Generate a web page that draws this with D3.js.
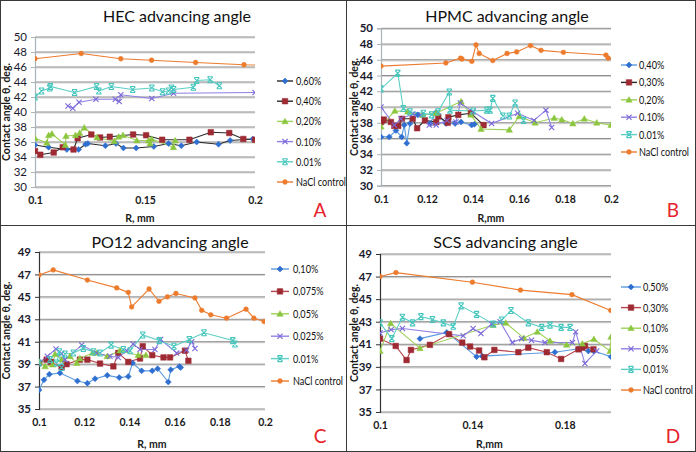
<!DOCTYPE html>
<html><head><meta charset="utf-8">
<script src="https://cdn.jsdelivr.net/npm/d3@7"></script>
<style>body{margin:0;background:#fff}svg{display:block}text{font-family:Lato,"Liberation Sans",sans-serif}</style>
</head><body><svg id="c" width="696" height="452"></svg>
<script>
// ---------- DATA ----------
// Panel A: HEC
const hec_060 = [[0.1,35.6],[0.1062,35.3],[0.1145,35.0],[0.1198,35.0],[0.123,35.7],[0.124,35.8],[0.132,35.5],[0.1368,35.8],[0.1402,35.2],[0.146,35.2],[0.154,35.4],[0.1607,35.8],[0.1665,35.5],[0.1735,36.0],[0.1834,35.7],[0.1887,36.2],[0.199,36.4]];
const hec_040 = [[0.1,34.8],[0.1024,34.3],[0.1085,34.6],[0.1126,35.3],[0.1175,35.0],[0.1194,36.5],[0.1256,37.0],[0.1296,36.6],[0.134,36.7],[0.1446,37.0],[0.1505,36.9],[0.1578,36.3],[0.1702,36.3],[0.1799,37.3],[0.1883,37.2],[0.1947,36.4],[0.2,36.3]];
const hec_020 = [[0.1,36.5],[0.1054,35.9],[0.1062,36.9],[0.1077,37.1],[0.1138,35.6],[0.1141,36.8],[0.1184,36.9],[0.1203,37.2],[0.1224,37.9],[0.1282,36.6],[0.136,36.1],[0.138,36.7],[0.14,36.9],[0.1463,36.2],[0.1516,36.2],[0.1523,35.8],[0.153,36.4],[0.1629,35.3],[0.1637,36.2]];
const hec_010 = [[0.115,40.8],[0.1172,40.5],[0.120,41.3],[0.1277,41.7],[0.1365,41.7],[0.1383,41.4],[0.139,42.3],[0.1531,41.8],[0.163,42.5],[0.2,42.6]];
const hec_001 = [[0.1,42.0],[0.103,42.8],[0.1067,43.2],[0.107,43.4],[0.118,42.6],[0.128,43.4],[0.129,42.8],[0.1347,43.4],[0.1444,43.0],[0.1531,43.2],[0.158,42.7],[0.1607,42.8],[0.162,43.2],[0.163,43.0],[0.172,43.3],[0.1735,44.2],[0.1796,44.3],[0.1838,43.5]];
const hec_nacl = [[0.1,47.1],[0.121,47.8],[0.139,47.1],[0.153,46.9],[0.173,46.6],[0.195,46.3],[0.21,46.2]];
// Panel B: HPMC
const hpmc_040 = [[0.1,36.2],[0.1036,36.2],[0.1065,37.0],[0.109,36.2],[0.1101,37.7],[0.1112,35.4],[0.1126,37.9],[0.116,39.0],[0.1213,37.9],[0.1239,39.3],[0.1283,37.9],[0.1322,37.9],[0.1348,38.1],[0.1394,37.7],[0.1406,37.8]];
const hpmc_030 = [[0.1,38.1],[0.1006,38.3],[0.1012,38.4],[0.1043,38.1],[0.1058,37.6],[0.1075,37.6],[0.1091,38.5],[0.1138,38.5],[0.1157,37.3],[0.1191,38.3],[0.124,38.1],[0.1249,38.8],[0.129,38.0],[0.1293,38.7],[0.1336,39.0],[0.1391,39.2],[0.1446,37.7]];
const hpmc_020 = [[0.1,37.5],[0.106,39.5],[0.1116,39.4],[0.118,39.0],[0.1239,39.2],[0.1348,40.7],[0.1391,39.0],[0.1435,37.2],[0.1558,37.1],[0.1601,38.8],[0.167,38.0],[0.1753,38.6],[0.1786,38.4],[0.1834,37.9],[0.1884,38.5],[0.1938,38.0],[0.2,37.7]];
const hpmc_010 = [[0.1,40.0],[0.1058,37.7],[0.1087,38.5],[0.1138,39.1],[0.1174,39.0],[0.121,37.7],[0.124,37.7],[0.1287,38.3],[0.1326,38.1],[0.1345,40.5],[0.14,39.4],[0.1481,37.9],[0.1594,39.2],[0.1665,38.3],[0.1717,39.6],[0.1742,37.4]];
const hpmc_001 = [[0.1,42.3],[0.1073,44.3],[0.1097,39.8],[0.1126,39.4],[0.1184,39.2],[0.122,39.0],[0.1248,39.4],[0.1297,41.9],[0.13,39.6],[0.1401,39.5],[0.146,39.6],[0.1474,39.6],[0.1486,41.1],[0.153,38.85],[0.1558,38.85],[0.1583,40.5],[0.162,38.3]];
const hpmc_nacl = [[0.1,45.2],[0.1282,45.6],[0.1346,46.2],[0.1352,46.1],[0.1395,45.8],[0.1413,47.9],[0.1427,46.8],[0.1486,45.9],[0.1548,46.8],[0.159,47.0],[0.165,47.8],[0.1696,47.2],[0.1793,46.95],[0.1978,46.6],[0.1988,46.2],[0.21,46.1]];
// Panel C: PO12
const po_010 = [[0.1,36.7],[0.1022,37.6],[0.1046,38.1],[0.1093,38.2],[0.117,37.5],[0.1214,37.3],[0.1248,37.7],[0.1302,38.0],[0.1355,37.8],[0.1395,37.9],[0.1414,39.1],[0.1454,38.4],[0.1501,38.4],[0.1525,38.6],[0.1572,37.4],[0.1583,38.5],[0.1621,38.8],[0.1627,38.7]];
const po_0075 = [[0.1,39.1],[0.1034,39.4],[0.1052,39.2],[0.11,38.7],[0.1122,39.0],[0.1181,39.4],[0.1214,39.4],[0.127,39.05],[0.1329,38.8],[0.1351,40.0],[0.1395,39.2],[0.1447,39.5],[0.1459,40.6],[0.1501,39.8],[0.1551,39.6],[0.158,39.6],[0.1646,40.2],[0.1661,39.3]];
const po_005 = [[0.1,39.2],[0.1027,38.8],[0.106,38.95],[0.1071,39.9],[0.11,39.4],[0.1137,39.7],[0.1167,39.1],[0.1181,39.5],[0.1237,40.0],[0.1255,40.0],[0.1302,39.7],[0.1358,40.2],[0.1439,39.8],[0.1473,39.8]];
const po_0025 = [[0.1,39.1],[0.1037,39.7],[0.1075,40.35],[0.11,39.95],[0.1115,39.4],[0.1189,40.7],[0.1255,40.0],[0.1314,39.7],[0.1351,39.6],[0.1388,40.2],[0.1417,40.8],[0.1447,40.3],[0.1513,40.3],[0.1538,41.2],[0.1609,40.0],[0.1653,40.25],[0.1676,41.0],[0.169,40.4]];
const po_001 = [[0.1,39.1],[0.1049,39.4],[0.1078,39.1],[0.109,40.1],[0.11,38.7],[0.1115,39.9],[0.1152,40.0],[0.1196,40.4],[0.124,40.1],[0.127,40.0],[0.1319,40.7],[0.1373,40.3],[0.1403,40.2],[0.1459,41.6],[0.1532,41.1],[0.1597,40.6],[0.1665,41.2],[0.173,41.8],[0.1857,41.1],[0.1867,40.8]];
const po_nacl = [[0.1,46.95],[0.1063,47.4],[0.1214,46.5],[0.1344,45.8],[0.1395,45.4],[0.141,44.1],[0.1487,45.7],[0.1531,44.6],[0.1568,45.0],[0.1606,45.3],[0.169,44.9],[0.172,43.8],[0.176,43.4],[0.183,43.1],[0.1916,43.9],[0.1951,43.1],[0.1996,42.8]];
// Panel D: SCS
const scs_050 = [[0.1173,41.5],[0.1289,42.05],[0.1418,39.9],[0.1442,39.95],[0.1757,40.3],[0.1859,40.6],[0.1902,40.4],[0.1925,40.4],[0.2,39.9]];
const scs_030 = [[0.1,41.5],[0.1068,40.85],[0.1115,39.6],[0.1134,40.5],[0.1216,40.95],[0.1299,41.9],[0.1356,41.15],[0.139,40.8],[0.1429,40.45],[0.1452,39.85],[0.1495,40.5],[0.1599,40.3],[0.1642,40.7],[0.1722,40.3],[0.1784,39.7],[0.1859,40.55],[0.1876,40.7],[0.1887,40.85],[0.1924,40.55]];
const scs_010 = [[0.1,40.4],[0.1046,42.85],[0.1173,40.65],[0.149,42.7],[0.1544,42.9],[0.1623,41.55],[0.1681,42.1],[0.1736,41.3],[0.1808,40.95],[0.1876,41.05],[0.1926,41.45],[0.1996,40.4],[0.2,41.65]];
const scs_005 = [[0.1,42.0],[0.1048,42.3],[0.1097,42.4],[0.136,41.75],[0.1403,42.4],[0.1437,41.95],[0.1483,42.8],[0.152,43.0],[0.1573,41.15],[0.1613,41.5],[0.1656,41.35],[0.1714,41.15],[0.1833,41.15],[0.1847,42.1],[0.1887,39.3],[0.1938,40.4]];
const scs_001 = [[0.1,42.9],[0.1051,41.5],[0.1097,43.4],[0.1141,42.9],[0.1177,43.45],[0.1227,43.2],[0.1274,42.9],[0.1317,42.6],[0.1351,44.4],[0.1418,43.65],[0.149,42.8],[0.1527,43.15],[0.1567,44.0],[0.1642,42.9],[0.17,42.5],[0.1736,42.7],[0.1784,42.5],[0.1823,42.5]];
const scs_nacl = [[0.1,47.0],[0.1069,47.35],[0.14,46.5],[0.1608,45.8],[0.1831,45.4],[0.1999,44.0]];

// titles, legend labels, tick labels
const titles = ["HEC advancing angle","HPMC advancing angle","PO12 advancing angle","SCS advancing angle"];
const legendA = ["0,60%","0,40%","0,20%","0.10%","0.01%","NaCl control"];
const legendB = ["0,40%","0,30%","0,20%","0.10%","0.01%","NaCl control"];
const legendC = ["0,10%","0,075%","0,05%","0,025%","0.01%","NaCl control"];
const legendD = ["0,50%","0,30%","0,10%","0,05%","0,01%","NaCl control"];
const xTicksA = [0.1,0.15,0.2];
const xTicksB = [0.1,0.12,0.14,0.16,0.18,0.2];
const xTicksC = [0.1,0.12,0.14,0.16,0.18,0.2];
const xTicksD = [0.1,0.14,0.18];
const yTicksAB = [30,32,34,36,38,40,42,44,46,48,50];
const yTicksCD = [35,37,39,41,43,45,47,49];

// ---------- STYLES ----------
const C = {
  blueM:"#2f6fd0", blueL:"#5b9be0",
  redM:"#9e2a33", redL:"#b8454c",
  green:"#8cc63f", greenL:"#9fd15a",
  purple:"#7a68d8", purpleL:"#8e80e2",
  cyan:"#45c6bd", cyanL:"#5ccfc6",
  orange:"#ec7b2e", dark:"#2a2a2a"
};
const mk = ["diamond","square","triangle","x","star","circle"];

const panels = [
 {title:titles[0], L:35,R:255,T:37,B:187, xd:[0.1,0.2], yd:[30,50], xt:xTicksA, yt:yTicksAB, xfmt:d3.format(".2~f"),
  xlabel:"R, mm", letter:"A", ox:0, oy:0, axisCol:"#a9b3b8", yBold:false, tdx:32, xldx:-5,
  leg:{x1:277,x2:293,tx:296,y0:81,dy:20.2}, labels:legendA,
  series:[[hec_060,C.blueM,C.dark],[hec_040,C.redM,C.dark],[hec_020,C.green,C.greenL],[hec_010,C.purple,C.purpleL],[hec_001,C.cyan,C.cyanL],[hec_nacl,C.orange,C.orange]]},
 {title:titles[1], L:381,R:611,T:28.3,B:185.7, xd:[0.1,0.2], yd:[30,50], xt:xTicksB, yt:yTicksAB, xfmt:d3.format(".2~f"),
  xlabel:"R,mm", letter:"B", ox:348, oy:0, axisCol:"#a9b3b8", yBold:true, tdx:11, xldx:-5,
  leg:{x1:621,x2:637,tx:639,y0:65,dy:17.4}, labels:legendB,
  series:[[hpmc_040,C.blueM,C.blueL],[hpmc_030,C.redM,C.dark],[hpmc_020,C.green,C.greenL],[hpmc_010,C.purple,C.purpleL],[hpmc_001,C.cyan,C.cyanL],[hpmc_nacl,C.orange,C.orange]]},
 {title:titles[2], L:39,R:265,T:252,B:409, xd:[0.1,0.2], yd:[35,49], xt:xTicksC, yt:yTicksCD, xfmt:d3.format(".2~f"),
  xlabel:"R, mm", letter:"C", ox:0, oy:226, axisCol:"#333", yBold:true, tdx:18, xldx:0,
  leg:{x1:271,x2:289,tx:293,y0:269,dy:22.4}, labels:legendC,
  series:[[po_010,C.blueM,C.blueL],[po_0075,C.redM,C.redL],[po_005,C.green,C.greenL],[po_0025,C.purple,C.purpleL],[po_001,C.cyan,C.cyanL],[po_nacl,C.orange,C.orange]]},
 {title:titles[3], L:380,R:611,T:254,B:412, xd:[0.1,0.2], yd:[35,49], xt:xTicksD, yt:yTicksCD, xfmt:d3.format(".2~f"),
  xlabel:"R,mm", letter:"D", ox:348, oy:226, axisCol:"#333", yBold:true, tdx:10, xldx:-6,
  leg:{x1:621,x2:641,tx:643,y0:287,dy:20.6}, labels:legendD,
  series:[[scs_050,C.blueM,C.blueL],[scs_030,C.redM,C.redL],[scs_010,C.green,C.greenL],[scs_005,C.purple,C.purpleL],[scs_001,C.cyan,C.cyanL],[scs_nacl,C.orange,C.orange]]}
];

function markerPath(t){
  switch(t){
    case "diamond": return `M0,-3L3,0L0,3L-3,0Z`;
    case "square": return `M-2.8,-2.8H2.8V2.8H-2.8Z`;
    case "triangle": return `M0,-3.2L3.2,2.4L-3.2,2.4Z`;
    case "x": return `M-2.6,-2.6L2.6,2.6M-2.6,2.6L2.6,-2.6`;
    case "star": return `M-2.6,-2.6L2.6,2.6M-2.6,2.6L2.6,-2.6M-2.6,-3H2.6M-2.6,3H2.6`;
    default: return d3.symbol(d3.symbolCircle,18)();
  }
}
function drawMarker(g,t,col,x,y){
  const filled = !(t==="x"||t==="star");
  g.append("path").attr("d",markerPath(t)).attr("transform",`translate(${x},${y})`)
   .attr("fill",filled?col:"none").attr("stroke",col).attr("stroke-width",filled?0.5:1.1);
}

const svg = d3.select("#c");
svg.append("rect").attr("width",696).attr("height",452).attr("fill","#fff");

panels.forEach((p,pi)=>{
  const x = d3.scaleLinear().domain(p.xd).range([p.L,p.R]);
  const y = d3.scaleLinear().domain(p.yd).range([p.B,p.T]);
  const g = svg.append("g");
  // gridlines
  p.yt.forEach(v=>{
    g.append("line").attr("x1",p.L).attr("x2",p.R).attr("y1",y(v)+1).attr("y2",y(v)+1).attr("stroke","#d6d6d6").attr("stroke-width",1.2);
    g.append("line").attr("x1",p.L).attr("x2",p.R).attr("y1",y(v)).attr("y2",y(v)).attr("stroke","#8c8c8c").attr("stroke-width",1);
  });
  // y axis
  const ya = d3.axisLeft(y).tickValues(p.yt).tickSize(4).tickPadding(4).tickFormat(d3.format("d"));
  const yg = g.append("g").attr("transform",`translate(${p.L},0)`).call(ya);
  yg.select(".domain").attr("stroke",p.axisCol).attr("stroke-width",1.2);
  yg.selectAll(".tick line").attr("stroke",p.axisCol);
  yg.selectAll("text").attr("font-size",11.5).attr("fill","#1a1a2e").attr("font-weight",p.yBold?"bold":"normal");
  // x axis labels
  const xa = d3.axisBottom(x).tickValues(p.xt).tickSize(0).tickPadding(10).tickFormat(p.xfmt);
  const xg = g.append("g").attr("transform",`translate(0,${p.B})`).call(xa);
  xg.select(".domain").remove();
  xg.selectAll("text").attr("font-size",10.5).attr("font-weight","bold").attr("fill","#1a1a1a");
  // clip
  const cid = "clip"+pi;
  svg.append("clipPath").attr("id",cid).append("rect").attr("x",p.L).attr("y",p.T-10).attr("width",p.R-p.L).attr("height",p.B-p.T+20);
  const pg = g.append("g").attr("clip-path",`url(#${cid})`);
  const line = d3.line().x(d=>x(d[0])).y(d=>y(d[1]));
  p.series.forEach(s=>{
    pg.append("path").attr("d",line(s[0])).attr("fill","none").attr("stroke",s[2]).attr("stroke-width",1.1);
  });
  p.series.forEach((s,si)=>{
    s[0].forEach(d=>{ if(d[0]<=p.xd[1]+1e-9) drawMarker(pg,mk[si],s[1],x(d[0]),y(d[1])); });
  });
  // title
  g.append("text").attr("x",(p.L+p.R)/2+p.tdx).attr("y",p.oy+22).attr("text-anchor","middle")
    .attr("font-size",16).attr("fill","#111").text(p.title);
  // axis titles
  g.append("text").attr("x",(p.L+p.R)/2+p.xldx).attr("y",p.oy+222).attr("text-anchor","middle")
    .attr("font-size",10.5).attr("font-weight","bold").attr("fill","#1a1a1a").text(p.xlabel);
  g.append("text").attr("transform",`translate(${p.ox+10},${(p.T+p.B)/2}) rotate(-90)`).attr("text-anchor","middle")
    .attr("font-size",10.5).attr("font-weight","bold").attr("fill","#1a1a1a").text("Contact angle θ, deg.");
  // legend
  p.labels.forEach((lab,i)=>{
    const ly = p.leg.y0 + i*p.leg.dy;
    const s = p.series[i];
    g.append("line").attr("x1",p.leg.x1).attr("x2",p.leg.x2).attr("y1",ly).attr("y2",ly).attr("stroke",s[2]).attr("stroke-width",1.4);
    drawMarker(g,mk[i],s[1],(p.leg.x1+p.leg.x2)/2,ly);
    g.append("text").attr("transform",`translate(${p.leg.tx},${ly+4}) scale(0.76,1)`).attr("font-size",12).attr("fill","#111").text(lab);
  });
  // panel letter
  g.append("text").attr("x",p.ox+(pi%2?325:320)).attr("y",p.oy+217).attr("text-anchor","middle")
    .attr("font-size",19).attr("fill","#e5222b").text(p.letter);
});
// panel borders
const bc="#3a3a3a";
svg.append("rect").attr("x",0.5).attr("y",0.5).attr("width",695).attr("height",451).attr("fill","none").attr("stroke",bc);
svg.append("line").attr("x1",346.5).attr("x2",346.5).attr("y1",0).attr("y2",452).attr("stroke",bc);
svg.append("line").attr("x1",0).attr("x2",696).attr("y1",225.5).attr("y2",225.5).attr("stroke",bc);
</script></body></html>
